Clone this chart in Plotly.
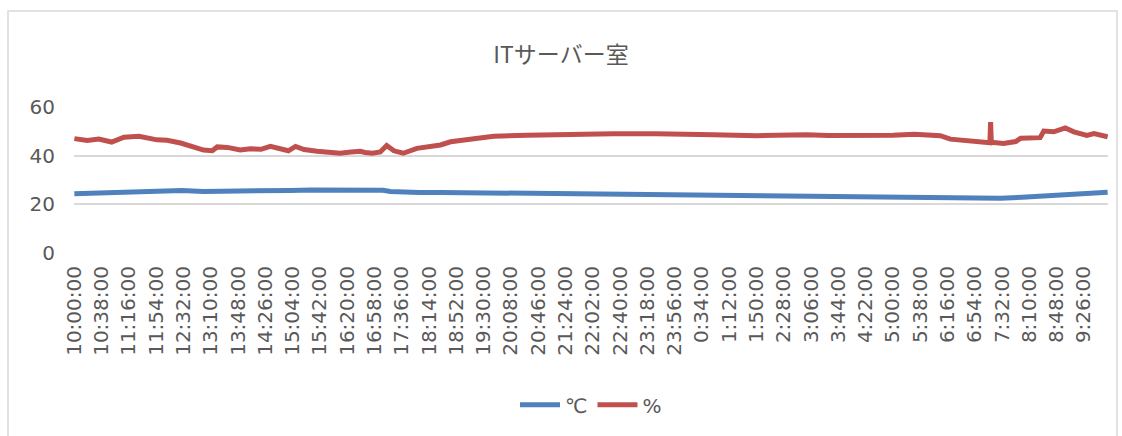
import plotly.graph_objects as go

# ---- data ----
tick_labels = [
    "10:00:00", "10:38:00", "11:16:00", "11:54:00", "12:32:00", "13:10:00", "13:48:00",
    "14:26:00", "15:04:00", "15:42:00", "16:20:00", "16:58:00", "17:36:00", "18:14:00",
    "18:52:00", "19:30:00", "20:08:00", "20:46:00", "21:24:00", "22:02:00", "22:40:00",
    "23:18:00", "23:56:00", "0:34:00", "1:12:00", "1:50:00", "2:28:00", "3:06:00",
    "3:44:00", "4:22:00", "5:00:00", "5:38:00", "6:16:00", "6:54:00", "7:32:00",
    "8:10:00", "8:48:00", "9:26:00",
]

temp_times = [
    "10:00", "10:30", "11:00", "11:30", "12:00", "12:30", "13:00", "13:30", "14:00",
    "14:30", "15:00", "15:30", "16:00", "16:30", "17:00", "17:10", "17:20", "17:40",
    "18:00", "18:30", "19:00", "19:20", "19:40", "20:00", "20:20", "21:00", "22:00",
    "22:30", "23:00", "0:00", "1:00", "2:00", "3:00", "4:00", "5:00", "6:00", "6:30",
    "7:00", "7:30", "8:00", "8:20", "8:40", "9:00", "9:30", "9:59",
]
temp_values = [
    24.4, 24.6, 24.9, 25.2, 25.6, 25.7, 25.3, 25.3, 25.3,
    25.5, 25.7, 25.9, 26.0, 26.0, 26.0, 25.8, 25.3, 25.0,
    24.9, 24.9, 24.8, 24.8, 24.7, 24.6, 24.3, 24.1, 23.9,
    23.8, 23.7, 23.5, 23.4, 23.3, 23.2, 23.0, 22.9, 22.7, 22.5,
    22.3, 22.5, 22.9, 23.3, 23.8, 24.2, 24.6, 25.0,
]

hum_times = [
    "10:00", "10:10", "10:18", "10:34", "10:52", "11:09", "11:30", "11:55", "12:09",
    "12:28", "12:46", "13:00", "13:12", "13:19", "13:33", "13:51", "14:05", "14:20",
    "14:33", "14:45", "14:58", "15:08", "15:20", "15:38", "15:55", "16:10", "16:25",
    "16:38", "16:45", "16:55", "17:06", "17:15", "17:25", "17:38", "17:57", "18:30",
    "18:44", "19:07", "19:21", "19:44", "20:30", "21:00", "22:00", "22:31", "23:30",
    "0:04", "0:50", "1:51", "2:30", "3:00", "3:30", "4:30", "5:00", "5:30", "6:06",
    "6:20", "6:43", "7:00", "7:15", "7:16", "7:17", "7:34", "7:51", "7:58", "8:25",
    "8:30", "8:44", "9:00", "9:12", "9:30", "9:40", "9:59",
]
hum_values = [
    47.0, 46.6, 46.2, 46.8, 45.6, 47.6, 48.0, 46.5, 46.3,
    45.2, 43.4, 42.3, 42.0, 43.6, 43.4, 42.3, 42.8, 42.6,
    43.8, 43.0, 42.0, 43.8, 42.5, 41.8, 41.5, 41.0, 41.5,
    41.8, 41.3, 41.0, 41.5, 44.2, 42.0, 41.0, 43.0, 44.4,
    45.7, 46.7, 47.2, 48.0, 48.4, 48.6, 48.9, 49.0, 49.0,
    49.0, 48.6, 48.2, 48.5, 48.6, 48.3, 48.2, 48.4, 48.8, 48.2,
    46.8, 46.2, 45.6, 45.3, 53.8, 45.5, 45.0, 45.8, 47.2, 47.4,
    50.1, 49.8, 51.4, 49.8, 48.3, 49.1, 47.8,
]

series_names = ["℃", "%"]
colors = ["#4F81BD", "#C0504D"]


def minutes_from_start(t):
    parts = t.split(":")
    m = int(parts[0]) * 60 + int(parts[1])
    return (m - 600) % 1440


tick_vals = [minutes_from_start(t) for t in tick_labels]

fig = go.Figure()
fig.add_trace(go.Scatter(
    x=[minutes_from_start(t) for t in temp_times], y=temp_values,
    mode="lines", name=series_names[0],
    line=dict(color=colors[0], width=5),
))
fig.add_trace(go.Scatter(
    x=[minutes_from_start(t) for t in hum_times], y=hum_values,
    mode="lines", name=series_names[1],
    line=dict(color=colors[1], width=5),
))

font_family = "DejaVu Sans, Noto Sans CJK JP, sans-serif"
gray = "#595959"

fig.update_layout(
    width=1122, height=436,
    margin=dict(l=74, r=14, t=107, b=183),
    paper_bgcolor="white", plot_bgcolor="white",
    font=dict(family=font_family, color=gray),
    title=dict(text="ITサーバー室", x=0.5, xanchor="center", y=1 - 55 / 436,
               yanchor="middle",
               font=dict(family="Noto Sans CJK JP, DejaVu Sans", size=23, color=gray)),
    showlegend=True,
    legend=dict(orientation="h", x=0.5, xanchor="center", y=-1.04, yanchor="middle",
                font=dict(size=20, color=gray), itemwidth=40,
                traceorder="normal"),
    xaxis=dict(range=[-0.5, 1439.5], tickmode="array", tickvals=tick_vals,
               ticktext=tick_labels, tickangle=-90, showgrid=False, zeroline=False,
               showline=False, ticks="", tickfont=dict(size=20, color=gray),
               ticklabelstandoff=8),
    yaxis=dict(range=[0, 60], tickvals=[0, 20, 40, 60], showgrid=True,
               gridcolor="#D9D9D9", gridwidth=2, zeroline=False, showline=False,
               ticks="", tickfont=dict(size=20, color=gray), ticklabelstandoff=18),
    shapes=[dict(type="rect", xref="paper", yref="paper",
                 x0=(8 - 74) / 1034, x1=(1117 - 74) / 1034,
                 y0=(253 - 445) / 146, y1=(253 - 11) / 146,
                 line=dict(color="#D9D9D9", width=1.5), fillcolor="rgba(0,0,0,0)",
                 layer="below")],
)

fig.write_html("out.html")
